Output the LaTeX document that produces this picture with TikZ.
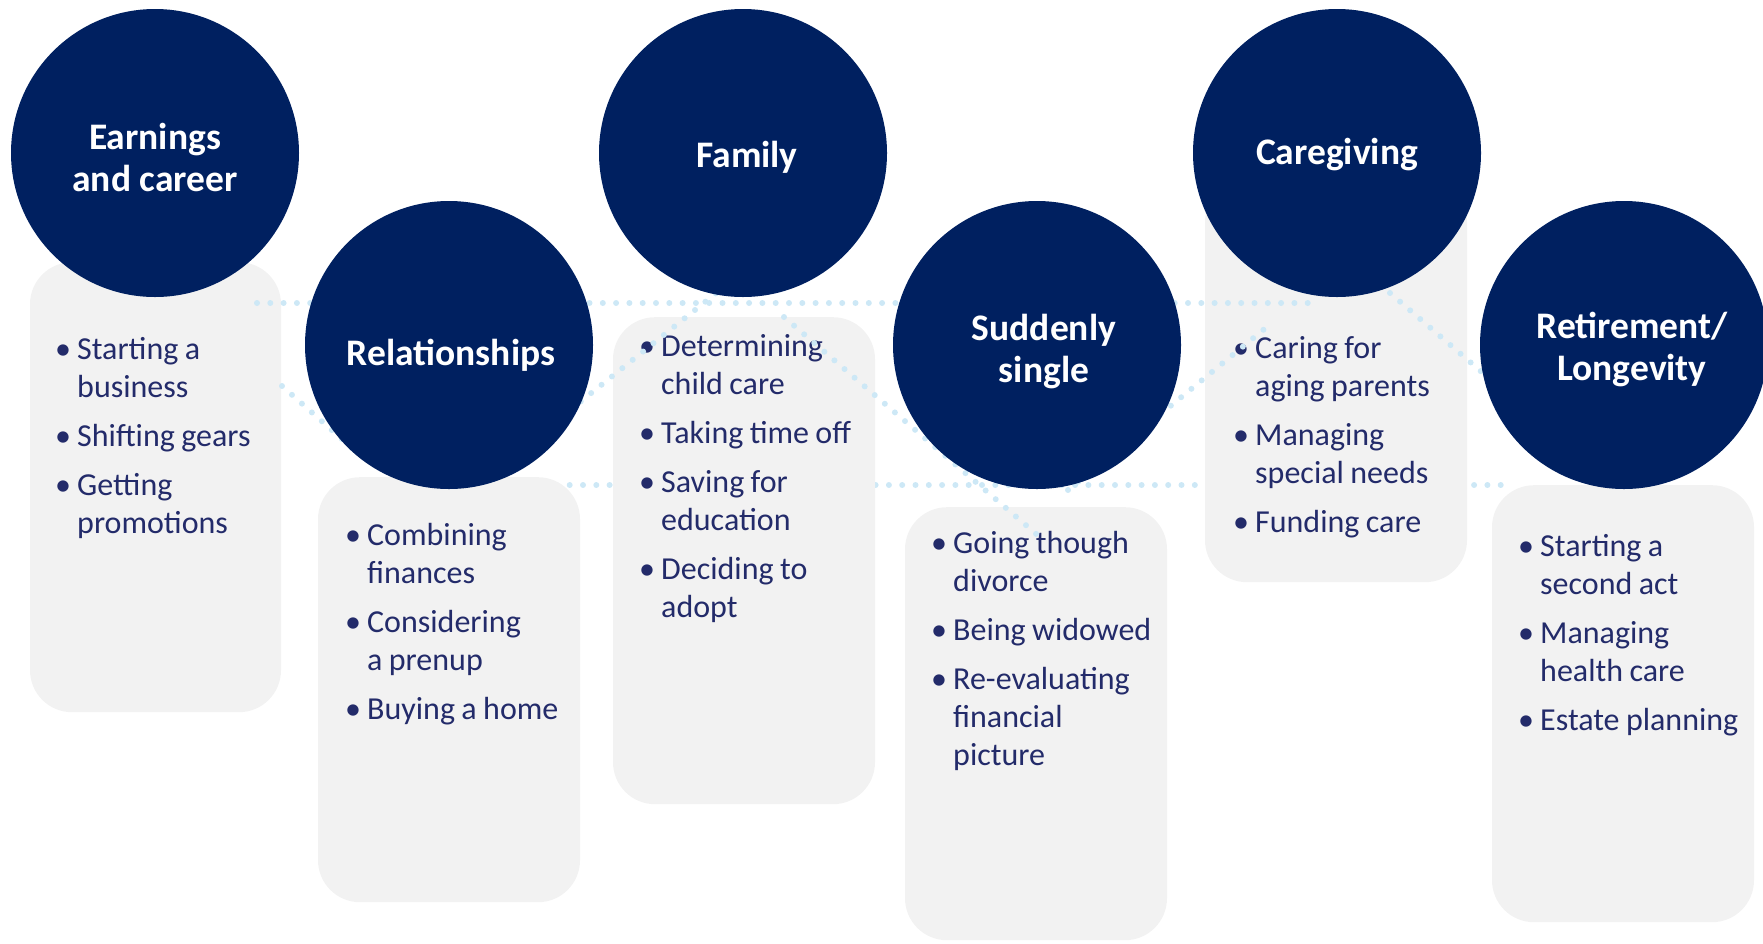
\documentclass[tikz,border=0pt]{standalone}
\usepackage{fontspec}
\setmainfont{Carlito}
\usetikzlibrary{positioning}
\definecolor{navy}{HTML}{002060}
\definecolor{panelgray}{HTML}{F2F2F2}
\definecolor{ink}{HTML}{232B6A}
\definecolor{dotblue}{HTML}{CDE8F6}
\newcommand{\bul}[1]{\hangindent=22pt\hangafter=1\noindent\makebox[22pt][l]{\textbullet}#1\par}

\begin{document}
\begin{tikzpicture}[x=1pt, y=-1pt, every node/.style={inner sep=0pt},
  stage/.style={circle, fill=navy, minimum size=288pt},
  stagetitle/.style={text=white, align=center, font=\fontsize{37.5}{42}\selectfont\bfseries},
  panel/.style={fill=panelgray, rounded corners=42pt, minimum width=262pt, anchor=north},
  items/.style={anchor=base west, text width=240pt, text=ink, font=\fontsize{32}{38}\selectfont,
    execute at begin node={\raggedright\setlength{\parskip}{11pt}\spaceskip=0.2em plus 0.05em\relax}},
  dotline/.style={draw=dotblue, line width=6pt, line cap=round, dash pattern=on 0pt off 13.3pt}]
  \useasboundingbox (0,0) rectangle (1763,943);

  \coordinate (low1) at (450,485); \coordinate (low2) at (1510,485);
  \draw[dotline] (low1) -- (low2);

  \node[panel, minimum height=450pt, minimum width=251pt] (earnbox) at (155.5,262) {};
  \node[panel, minimum height=425pt] (relbox) at (449,477) {};
  \node[panel, minimum height=487pt] (fambox) at (744,317) {};
  \node[panel, minimum height=433pt] (singlebox) at (1036,507) {};
  \node[panel, minimum height=402pt] (carebox) at (1336,180) {};
  \node[panel, minimum height=437pt] (retbox) at (1623,485) {};

  \node[items] (earnlist) at (55,359) {\bul{Starting a\newline business}\bul{Shifting gears}\bul{Getting\newline promotions}};
  \node[items] (rellist) at (345,545) {\bul{Combining\newline finances}\bul{Considering\newline a prenup}\bul{Buying a home}};
  \node[items] (famlist) at (639,356) {\bul{Determining\newline child care}\bul{Taking time off}\bul{Saving for\newline education}\bul{Deciding to\newline adopt}};
  \node[items] (singlelist) at (931,553) {\bul{Going though\newline divorce}\bul{Being widowed}\bul{Re-evaluating\newline financial\newline picture}};
  \node[items] (carelist) at (1233,358) {\bul{Caring for\newline aging parents}\bul{Managing\newline special needs}\bul{Funding care}};
  \node[items] (retlist) at (1518,556) {\bul{Starting a\newline second act}\bul{Managing\newline health care}\bul{Estate planning}};

  \coordinate (top1) at (257,303); \coordinate (top2) at (1320,303);
  \coordinate (a1) at (282,386); \coordinate (a2) at (360,455);
  \coordinate (b1) at (560,418); \coordinate (b2) at (730,282);
  \coordinate (c1) at (784,317); \coordinate (c2) at (1042,539);
  \coordinate (d1) at (1068,490); \coordinate (d2) at (1268,326);
  \coordinate (e1) at (1390,293); \coordinate (e2) at (1520,405);
  \draw[dotline] (top1) -- (top2);
  \draw[dotline] (a1) -- (a2); \draw[dotline] (b1) -- (b2); \draw[dotline] (c1) -- (c2);
  \draw[dotline] (d1) -- (d2); \draw[dotline] (e1) -- (e2);

  \node[stage] (earn) at (155,153) {};
  \node[stage] (rel) at (449,345) {};
  \node[stage] (fam) at (743,153) {};
  \node[stage] (single) at (1037,345) {};
  \node[stage] (care) at (1337,153) {};
  \node[stage] (retire) at (1624,345) {};
  \node[stagetitle] (earntitle) at (155,157.5) {Earnings\\and career};
  \node[stagetitle] (reltitle) at (451,355) {Relationships};
  \node[stagetitle] (famtitle) at (747,157.5) {Family};
  \node[stagetitle] (singletitle) at (1044,351.5) {Suddenly\\single};
  \node[stagetitle] (caretitle) at (1337,155) {Caregiving};
  \node[stagetitle] (retiretitle) at (1632,349.5) {Retirement/\\Longevity};
\end{tikzpicture}
\end{document}
